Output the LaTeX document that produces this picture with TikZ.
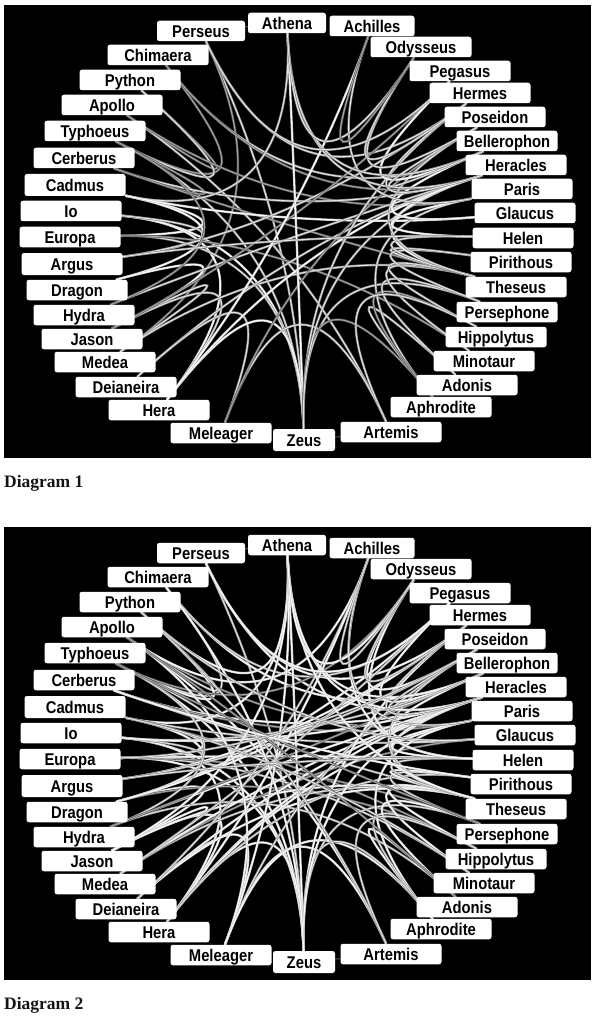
\documentclass[tikz,border=0pt]{standalone}
\usepackage{fontspec}
\usetikzlibrary{calc}
\newfontfamily\godfont[FakeStretch=0.87]{Liberation Sans}
\newfontfamily\capfont{Liberation Serif}

\colorlet{edgehi}{white!80!black}
\colorlet{corehi}{white}
\colorlet{edgemd}{white!55!black}
\colorlet{coremd}{white!90!black}
\colorlet{edgelo}{white!35!black}
\colorlet{corelo}{white!65!black}

\pgfdeclarelayer{bg}
\pgfsetlayers{bg,main}

\tikzset{
  god/.style={fill=white, rounded corners=2.5pt, minimum width=101pt,
    minimum height=20.5pt, inner sep=0pt, text height=15pt, text depth=2pt,
    font=\godfont\bfseries\fontsize{17pt}{18pt}\selectfont},
  link/.style={line width=0.65pt, double distance=1pt, line cap=round},
  shortlink/.style={draw=gray, line width=0.6pt},
  caption/.style={anchor=base west, inner sep=0pt, text=black!92,
    font=\capfont\bfseries\fontsize{17.5pt}{20pt}\selectfont},
}

% the ring of names, #1 = prefix of the node names
\newcommand\godring[1]{
  \coordinate (#1ctr) at (297,232);
  \node[god, minimum width=88pt] (#1Perseus) at (201,31) {Perseus};
  \node[god, minimum width=78pt] (#1Athena) at (287,23) {Athena};
  \node[god, minimum width=85pt] (#1Achilles) at (372,26) {Achilles};
  \node[god] (#1Odysseus) at (421,47) {Odysseus};
  \node[god] (#1Pegasus) at (460,71) {Pegasus};
  \node[god] (#1Hermes) at (480,93) {Hermes};
  \node[god] (#1Poseidon) at (495,117) {Poseidon};
  \node[god] (#1Bellerophon) at (507,141) {Bellerophon};
  \node[god] (#1Heracles) at (516,165) {Heracles};
  \node[god] (#1Paris) at (522,189) {Paris};
  \node[god] (#1Glaucus) at (525,213) {Glaucus};
  \node[god] (#1Helen) at (523,238) {Helen};
  \node[god] (#1Pirithous) at (521,262) {Pirithous};
  \node[god] (#1Theseus) at (516,287) {Theseus};
  \node[god] (#1Persephone) at (507,312) {Persephone};
  \node[god] (#1Hippolytus) at (496,337) {Hippolytus};
  \node[god] (#1Minotaur) at (484,361) {Minotaur};
  \node[god] (#1Adonis) at (467,385) {Adonis};
  \node[god] (#1Aphrodite) at (441,407) {Aphrodite};
  \node[god] (#1Artemis) at (391,432) {Artemis};
  \node[god, minimum width=62pt, minimum height=22pt] (#1Zeus) at (304,440) {Zeus};
  \node[god] (#1Meleager) at (221,433) {Meleager};
  \node[god] (#1Hera) at (159,410) {Hera};
  \node[god] (#1Deianeira) at (126,387) {Deianeira};
  \node[god] (#1Medea) at (105,362) {Medea};
  \node[god] (#1Jason) at (92,339) {Jason};
  \node[god] (#1Hydra) at (84,315) {Hydra};
  \node[god] (#1Dragon) at (77,290) {Dragon};
  \node[god, minimum height=22pt] (#1Argus) at (72,264) {Argus};
  \node[god] (#1Europa) at (70,237) {Europa};
  \node[god] (#1Io) at (71,211) {Io};
  \node[god, minimum height=22pt] (#1Cadmus) at (75,185) {Cadmus};
  \node[god] (#1Cerberus) at (84,158) {Cerberus};
  \node[god] (#1Typhoeus) at (95,131) {Typhoeus};
  \node[god] (#1Apollo) at (112,105) {Apollo};
  \node[god] (#1Python) at (130,80) {Python};
  \node[god] (#1Chimaera) at (158,55) {Chimaera};
}

% bundled curves through the middle of the ring
\newcommand\godlinks[2]{
  \foreach \a/\b/\k in {#2}
    \draw[link, draw=edge\k, double=core\k] (#1\a)
      .. controls ($(#1\a)!.7!(#1ctr)$) and ($(#1\b)!.7!(#1ctr)$) .. (#1\b);
  \draw[shortlink] (#1Perseus) -- (#1Athena);
  \draw[shortlink] (#1Zeus) -- (#1Artemis);
}

\begin{document}
\begin{tikzpicture}[x=1pt, y=-1pt]
  \useasboundingbox (0,0) rectangle (598,1024);

  % Diagram 1
  \begin{scope}
    \godring{a}
    \begin{pgfonlayer}{bg}
      \fill[black] (4,5) rectangle (591,458);
      \godlinks{a}{Perseus/Hermes/md, Perseus/Zeus/md, Perseus/Medea/lo,
        Chimaera/Bellerophon/md, Chimaera/Typhoeus/lo, Chimaera/Heracles/lo,
        Python/Apollo/lo, Python/Typhoeus/md, Apollo/Artemis/md, Apollo/Paris/lo,
        Typhoeus/Zeus/md, Typhoeus/Cerberus/lo, Cerberus/Heracles/md, Cerberus/Theseus/lo,
        Cadmus/Europa/hi, Cadmus/Dragon/hi, Cadmus/Athena/md, Cadmus/Glaucus/hi,
        Io/Zeus/hi, Io/Hera/hi, Io/Argus/md, Europa/Zeus/md, Europa/Minotaur/lo,
        Argus/Hermes/md, Dragon/Jason/hi, Hydra/Heracles/md, Hydra/Typhoeus/lo,
        Jason/Medea/md, Jason/Hera/md, Jason/Pegasus/lo, Medea/Theseus/md,
        Deianeira/Heracles/md, Deianeira/Meleager/md,
        Hera/Zeus/hi, Hera/Heracles/hi, Hera/Achilles/hi,
        Meleager/Artemis/md, Meleager/Poseidon/lo,
        Zeus/Athena/hi, Zeus/Hermes/md, Zeus/Persephone/md, Zeus/Aphrodite/lo, Zeus/Heracles/md,
        Aphrodite/Adonis/md, Aphrodite/Paris/md, Aphrodite/Hippolytus/lo,
        Adonis/Persephone/md, Minotaur/Theseus/md,
        Hippolytus/Theseus/md, Hippolytus/Artemis/md, Persephone/Pirithous/md,
        Theseus/Pirithous/md, Theseus/Heracles/hi, Theseus/Helen/md, Theseus/Poseidon/md,
        Helen/Paris/hi, Helen/Argus/md, Glaucus/Bellerophon/hi, Paris/Achilles/md,
        Heracles/Athena/md, Heracles/Hermes/md,
        Bellerophon/Pegasus/hi, Bellerophon/Athena/md, Bellerophon/Poseidon/md,
        Poseidon/Odysseus/md, Hermes/Odysseus/md, Pegasus/Perseus/md,
        Odysseus/Athena/md, Odysseus/Achilles/lo}
    \end{pgfonlayer}
  \end{scope}
  \node[caption] (cap1) at (4,487) {Diagram 1};

  % Diagram 2
  \begin{scope}[yshift=-522pt]
    \godring{b}
    \begin{pgfonlayer}{bg}
      \fill[black] (4,5) rectangle (591,458);
      \godlinks{b}{Perseus/Hermes/hi, Perseus/Zeus/md, Perseus/Heracles/hi,
        Chimaera/Bellerophon/hi, Chimaera/Typhoeus/md, Chimaera/Pegasus/md,
        Python/Apollo/md, Python/Typhoeus/hi, Python/Athena/hi, Apollo/Artemis/hi,
        Apollo/Paris/lo, Apollo/Achilles/hi, Typhoeus/Zeus/hi, Typhoeus/Cerberus/md,
        Typhoeus/Odysseus/lo, Cerberus/Heracles/hi, Cerberus/Theseus/md, Cerberus/Paris/lo,
        Cadmus/Europa/hi, Cadmus/Dragon/hi, Cadmus/Athena/hi, Cadmus/Glaucus/md,
        Cadmus/Hippolytus/lo, Io/Zeus/hi, Io/Hera/hi, Io/Argus/md, Io/Bellerophon/md,
        Io/Heracles/hi, Europa/Zeus/hi, Europa/Minotaur/md, Europa/Persephone/lo,
        Europa/Helen/hi, Argus/Hermes/hi, Argus/Poseidon/md, Dragon/Jason/hi,
        Dragon/Pegasus/hi, Dragon/Hippolytus/lo, Dragon/Hermes/hi,
        Hydra/Heracles/hi, Hydra/Typhoeus/md, Hydra/Adonis/md, Hydra/Bellerophon/lo,
        Jason/Medea/hi, Jason/Hera/hi, Jason/Theseus/hi, Jason/Athena/hi,
        Medea/Theseus/md, Medea/Glaucus/lo, Medea/Heracles/hi, Medea/Pegasus/md,
        Deianeira/Heracles/hi, Deianeira/Meleager/hi, Deianeira/Theseus/hi, Deianeira/Achilles/md,
        Hera/Zeus/hi, Hera/Heracles/hi, Hera/Achilles/hi, Hera/Paris/hi, Hera/Pirithous/md,
        Meleager/Artemis/hi, Meleager/Poseidon/md, Meleager/Athena/hi, Meleager/Apollo/hi,
        Meleager/Aphrodite/hi, Zeus/Athena/hi, Zeus/Hermes/hi, Zeus/Persephone/md,
        Zeus/Aphrodite/md, Zeus/Heracles/hi, Zeus/Chimaera/hi,
        Artemis/Python/md, Aphrodite/Adonis/hi, Aphrodite/Paris/hi, Aphrodite/Hippolytus/md,
        Adonis/Persephone/hi, Adonis/Apollo/lo, Minotaur/Theseus/hi, Minotaur/Cadmus/md,
        Hippolytus/Theseus/hi, Hippolytus/Artemis/md, Persephone/Pirithous/md,
        Persephone/Typhoeus/lo, Theseus/Pirithous/hi, Theseus/Heracles/hi, Theseus/Helen/md,
        Theseus/Poseidon/md, Theseus/Athena/hi, Pirithous/Cerberus/hi,
        Helen/Paris/hi, Helen/Argus/md, Helen/Achilles/hi, Helen/Odysseus/hi,
        Glaucus/Bellerophon/hi, Glaucus/Python/md, Paris/Achilles/md,
        Heracles/Athena/hi, Heracles/Hermes/md, Bellerophon/Pegasus/hi,
        Bellerophon/Athena/hi, Bellerophon/Poseidon/md, Poseidon/Odysseus/hi,
        Poseidon/Europa/md, Hermes/Odysseus/md, Pegasus/Perseus/hi,
        Odysseus/Athena/hi, Odysseus/Achilles/md}
    \end{pgfonlayer}
  \end{scope}
  \node[caption] (cap2) at (4,1009) {Diagram 2};
\end{tikzpicture}
\end{document}
